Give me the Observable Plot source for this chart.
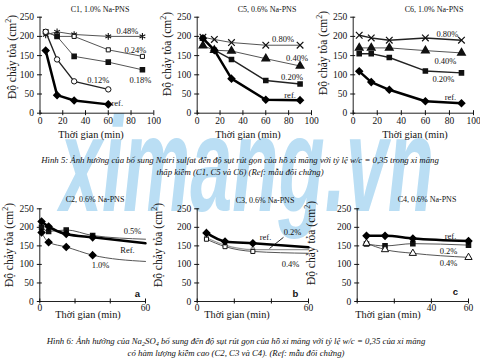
<!DOCTYPE html>
<html><head><meta charset="utf-8">
<script src="https://cdn.jsdelivr.net/npm/d3@7"></script>
<script src="https://cdn.jsdelivr.net/npm/@observablehq/plot@0.6"></script>
<style>
body{margin:0;background:#fff;}
#root{position:relative;width:480px;height:359px;overflow:hidden;background:#fff;font-family:"Liberation Serif",serif;color:#111;}
.abs{position:absolute;white-space:nowrap;line-height:1;}
.title{font-size:8px;transform:translate(-50%,-50%);}
.ylab{font-size:11.5px;transform:translate(-50%,-50%) rotate(-90deg);}
.xlab{font-size:10.3px;transform:translate(-50%,-50%);}
.cap{font-size:8.75px;font-style:italic;transform:translate(-50%,-50%);}
sup,sub{font-size:70%;line-height:0;}
</style></head><body><div id="root"></div><script>
// ---------- data ----------
const yTicks = [0, 50, 100, 150, 200, 250];
const row1XTicks = [0, 20, 40, 60, 80, 100];
const row2XTicks = [0, 20, 40, 60];

// Hình 5 — C1, 1.0% Na-PNS
const c1Times = [5, 15, 30, 60, 90];
const c1Ref  = [163, 47, 33, 23];
const c1P012 = [212, 140, 83, 62];
const c1P018 = [212, 200, 148, 133, 113];
const c1P024 = [212, 200, 200, 165, 148];
const c1P048 = [204, 212, 205, 200, 200];

// C5, 0.6% Na-PNS
const c5Times = [5, 15, 30, 60, 90];
const c5Ref  = [195, 164, 90, 35, 34];
const c5P020 = [195, 164, 140, 85, 76];
const c5P040 = [176, 164, 162, 142, 123];
const c5P080 = [198, 192, 184, 177, 177];

// C6, 1.0% Na-PNS
const c6Times = [5, 15, 30, 60, 90];
const c6Ref  = [109, 81, 61, 31, 26];
const c6P020 = [155, 155, 145, 110, 105];
const c6P040 = [170, 170, 170, 163, 157];
const c6P080 = [203, 196, 190, 196, 190];

// Hình 6 — C2, 0.6% Na-PNS
const c2Times = [1, 5, 15, 30, 60];
const c2Ref  = [216, 202, 182, 173, 157];
const c2P05  = [200, 189, 193, 178, 168];
const c2P10  = [186, 160, 147, 125, 108];

// C3, 0.6% Na-PNS
const c3Times = [5, 15, 30, 60];
const c3Ref  = [185, 162, 157, 146];
const c3P02  = [172, 152, 140, 140];
const c3P04  = [168, 148, 135, 130];

// C4, 0.6% Na-PNS
const c4Times = [5, 15, 30, 60];
const c4Ref  = [177, 177, 170, 163];
const c4P02  = [155, 150, 156, 152];
const c4P04  = [157, 140, 130, 119];

// ---------- styles ----------
const MK = {
  ref: {symbol: "diamond2", r: 2.9, fill: "#000", stroke: "#000"},
  fsq: {symbol: "square", r: 2.3, fill: "#111", stroke: "#111"},
  osq: {symbol: "square", r: 2.3, fill: "#fff", stroke: "#111", strokeWidth: 1},
  gsq: {symbol: "square", r: 2, fill: "#ddd", stroke: "#888", strokeWidth: 1},
  oci: {symbol: "circle", r: 2.7, fill: "#fff", stroke: "#111", strokeWidth: 1},
  ftr: {symbol: "triangle", r: 2.7, fill: "#111", stroke: "#111"},
  otr: {symbol: "triangle", r: 2.7, fill: "#fff", stroke: "#111", strokeWidth: 1},
  x:   {symbol: "times", r: 3.1, fill: "none", stroke: "#111", strokeWidth: 1.2},
  ast: {symbol: "asterisk", r: 3.1, fill: "none", stroke: "#111", strokeWidth: 1.1}
};
const REF = {stroke: "#000", sw: 2.5};
const THIN = {stroke: "#555", sw: 1};
const MID = {stroke: "#222", sw: 1.4};

const root = document.getElementById("root");
function addDiv(cls, html, x, y) {
  const d = document.createElement("div");
  d.className = "abs " + cls;
  d.innerHTML = html;
  d.style.left = x + "px";
  d.style.top = y + "px";
  root.appendChild(d);
  return d;
}

// watermark
const wm = document.createElementNS("http://www.w3.org/2000/svg", "svg");
wm.setAttribute("width", 480); wm.setAttribute("height", 359);
wm.style.position = "absolute"; wm.style.left = "0"; wm.style.top = "0";
wm.innerHTML = '<text x="60" y="211" font-family="Liberation Sans" font-weight="bold" font-style="italic" font-size="136" fill="#badef4" textLength="374" lengthAdjust="spacingAndGlyphs">ximang.vn</text>';
root.appendChild(wm);

function panel(p) {
  const marks = [];
  marks.push(Plot.ruleX([p.xDomain[0]], {y1: 0, y2: 250, stroke: "#222", strokeWidth: 1}));
  marks.push(Plot.ruleY([0], {x1: p.xDomain[0], x2: p.xDomain[1], stroke: "#222", strokeWidth: 1}));
  marks.push(Plot.axisY(yTicks, {tickSize: 5, dx: 2.5, tickPadding: 3.5, fontSize: 9.5, label: null}));
  marks.push(Plot.axisX(p.xTicks, {tickSize: 5, dy: -2.5, tickPadding: p.xPad, fontSize: 9.5, label: null,
    tickFormat: d => p.xShow.includes(d) ? String(d) : ""}));
  for (const s of p.series) {
    const data = s.values.map((v, i) => ({t: s.times[i], v}));
    marks.push(Plot.line(data, {x: "t", y: "v", stroke: s.st.stroke, strokeWidth: s.st.sw, curve: p.curve || "linear"}));
    const dots = s.skipLast ? data.slice(0, -1) : data;
    marks.push(Plot.dot(dots, {x: "t", y: "v", ...s.mk}));
    if (s.label) {
      marks.push(Plot.text([data[data.length - 1]], {x: "t", y: "v", text: () => s.label,
        dx: s.dx, dy: s.dy, fontSize: 8.5, textAnchor: "middle", lineAnchor: "middle", fill: "#111"}));
    }
  }
  if (p.extra) marks.push(...p.extra);
  if (p.letter) {
    marks.push(Plot.text([p.letter], {frameAnchor: "bottom-right", text: d => d, dx: p.letterDx, dy: p.letterDy,
      textAnchor: "middle", lineAnchor: "middle", fontSize: 9.5, fontFamily: "Liberation Sans", fontWeight: "bold", fill: "#111"}));
  }
  const svg = Plot.plot({
    width: p.width, height: p.height,
    marginTop: p.mt, marginBottom: p.mb, marginLeft: p.ml, marginRight: p.mr,
    x: {domain: p.xDomain, label: null},
    y: {domain: [0, 250], label: null},
    style: {fontFamily: "Liberation Serif", fontSize: "9.5px", background: "transparent", overflow: "visible", color: "#111"},
    marks
  });
  svg.style.position = "absolute";
  svg.style.left = p.left + "px";
  svg.style.top = p.top + "px";
  root.appendChild(svg);
}

const R1 = {top: 0, height: 130, mt: 16.7, mb: 17.3, xDomain: [0, 100], xTicks: row1XTicks, xShow: row1XTicks, xPad: 2};
const R2 = {top: 195, height: 120, mt: 13.3, mb: 14, xDomain: [0, 60], xTicks: row2XTicks, xPad: 0.5, curve: "monotone-x"};

// C1
panel({...R1, left: 0, width: 160, ml: 39.5, mr: 6.7, series: [
  {times: c1Times, values: c1P048, st: THIN, mk: MK.ast, label: "0.48%", dx: -15, dy: -5},
  {times: c1Times, values: c1P024, st: THIN, mk: MK.osq, label: "0.24%", dx: -7, dy: -6},
  {times: c1Times, values: c1P018, st: THIN, mk: MK.fsq, label: "0.18%", dx: -2, dy: 10},
  {times: c1Times, values: c1P012, st: MID, mk: MK.oci, label: "0.12%", dx: -10, dy: -9},
  {times: c1Times, values: c1Ref, st: REF, mk: MK.ref, label: "ref.", dx: 9, dy: -1}
]});
// C5
panel({...R1, left: 155, width: 160, ml: 41.7, mr: 4, series: [
  {times: c5Times, values: c5P080, st: THIN, mk: MK.x, label: "0.80%", dx: -17, dy: -6},
  {times: c5Times, values: c5P040, st: THIN, mk: MK.ftr, label: "0.40%", dx: -3, dy: -8},
  {times: c5Times, values: c5P020, st: MID, mk: MK.fsq, label: "0.20%", dx: -8, dy: -7},
  {times: c5Times, values: c5Ref, st: REF, mk: MK.ref, label: "ref.", dx: -10, dy: -5}
]});
// C6
panel({...R1, left: 310, width: 170, ml: 42.7, mr: 7, series: [
  {times: c6Times, values: c6P080, st: MID, mk: MK.x, label: "0.80%", dx: -14, dy: -6},
  {times: c6Times, values: c6P040, st: THIN, mk: MK.ftr, label: "0.40%", dx: -16, dy: 8},
  {times: c6Times, values: c6P020, st: MID, mk: MK.fsq, label: "0.20%", dx: -18, dy: 6},
  {times: c6Times, values: c6Ref, st: REF, mk: MK.ref, label: "ref.", dx: -11, dy: -6}
]});
// C2
panel({...R2, left: 0, width: 155, ml: 39.3, mr: 10, xShow: [0, 60], letter: "a", letterDx: -8, letterDy: -8, series: [
  {times: c2Times, values: c2P05, st: THIN, mk: MK.fsq, skipLast: true, label: "0.5%", dx: -13, dy: -8},
  {times: c2Times, values: c2P10, st: THIN, mk: MK.ref, skipLast: true, label: "1.0%", dx: -45, dy: 4},
  {times: c2Times, values: c2Ref, st: REF, mk: MK.ref, skipLast: true, label: "Ref.", dx: -18, dy: 7}
]});
// C3 leader line from the "0.2%" label to its curve
const c3LeadT = c3Times[2] + (c3Times[3] - c3Times[2]) * 0.3;
const c3LeadV = c3P02[2] + (c3P02[3] - c3P02[2]) * 0.3;
const c3Leader = [{x1: c3LeadT, y1: c3LeadV + 3, x2: c3LeadT + 7.5, y2: c3LeadV + 33}];
panel({...R2, left: 155, width: 160, ml: 41.7, mr: 7, xShow: [0, 60], letter: "b", letterDx: -13, letterDy: -8,
  extra: [Plot.link(c3Leader, {x1: "x1", y1: "y1", x2: "x2", y2: "y2", stroke: "#111", strokeWidth: 0.9})],
  series: [
  {times: c3Times, values: c3P02, st: {stroke: "#999", sw: 1.2}, mk: MK.gsq, skipLast: true, label: "0.2%", dx: -16, dy: -17},
  {times: c3Times, values: c3P04, st: THIN, mk: MK.osq, skipLast: true, label: "0.4%", dx: -18, dy: 11},
  {times: c3Times, values: c3Ref, st: REF, mk: MK.ref, skipLast: true, label: "ref.", dx: -43, dy: -10}
]});
// C4
panel({...R2, left: 315, width: 165, ml: 41.7, mr: 12, xShow: [40, 60], letter: "c", letterDx: -13, letterDy: -10, series: [
  {times: c4Times, values: c4P02, st: THIN, mk: MK.fsq, label: "0.2%", dx: -20, dy: 6},
  {times: c4Times, values: c4P04, st: THIN, mk: MK.otr, label: "0.4%", dx: -20, dy: 6},
  {times: c4Times, values: c4Ref, st: REF, mk: MK.ref, label: "ref.", dx: -18, dy: -5}
]});

// titles
addDiv("title", "C1, 1.0% Na-PNS", 100, 10);
addDiv("title", "C5, 0.6% Na-PNS", 267, 10);
addDiv("title", "C6, 1.0% Na-PNS", 434, 10);
addDiv("title", "C2, 0.6% Na-PNS", 95, 200);
addDiv("title", "C3, 0.6% Na-PNS", 265, 201);
addDiv("title", "C4, 0.6% Na-PNS", 427, 200);
// y labels
const yl = "Độ chảy tỏa (cm<sup>2</sup>)";
addDiv("ylab", yl, 13, 57);
addDiv("ylab", yl, 168, 54);
addDiv("ylab", yl, 324, 53);
addDiv("ylab", yl, 10, 245);
addDiv("ylab", yl, 159, 245);
addDiv("ylab", yl, 312, 243);
// x labels
const xl = "Thời gian (min)";
addDiv("xlab", xl, 91, 135);
addDiv("xlab", xl, 248, 135);
addDiv("xlab", xl, 415, 135);
addDiv("xlab", xl, 88, 315);
addDiv("xlab", xl, 237, 315);
addDiv("xlab", xl, 388, 315);
// captions
addDiv("cap", "Hình 5: Ảnh hưởng của bổ sung Natri sulfat đến độ sụt rút gọn của hồ xi măng với tỷ lệ w/c = 0,35 trong xi măng", 240, 160);
addDiv("cap", "thấp kiềm (C1, C5 và C6) (Ref: mẫu đối chứng)", 240, 172);
addDiv("cap", "Hình 6: Ảnh hưởng của Na<sub>2</sub>SO<sub>4</sub> bổ sung đến độ sụt rút gọn của hồ xi măng với tỷ lệ w/c = 0,35 của xi măng", 236, 341);
addDiv("cap", "có hàm lượng kiềm cao (C2, C3 và C4). (Ref: mẫu đối chứng)", 236, 353);
</script></body></html>
